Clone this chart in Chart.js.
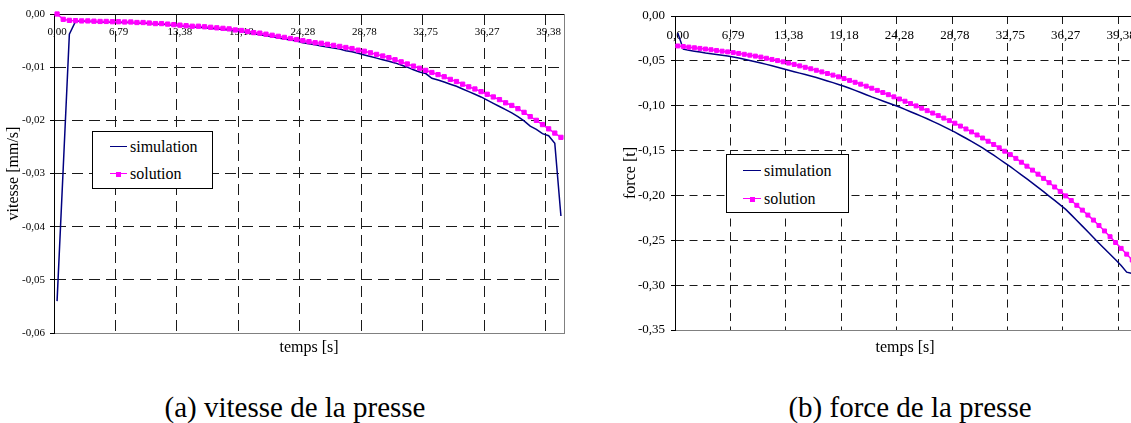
<!DOCTYPE html>
<html lang="fr">
<head>
<meta charset="utf-8">
<title>vitesse et force de la presse</title>
<script src="https://cdn.jsdelivr.net/npm/chart.js@4.4.1/dist/chart.umd.min.js"></script>
<style>
html,body{margin:0;padding:0;width:1131px;height:423px;overflow:hidden;background:#fff}
body{position:relative;font-family:'Liberation Serif','Times New Roman',serif;color:#000}
canvas{position:absolute;top:0}
#cA{left:0}
#cB{left:570px}
.legend{position:absolute;box-sizing:border-box;border:1px solid #000;background:#fff}
.legend .ln{position:absolute;height:0;border-top:1.5px solid}
.legend .mk{position:absolute;width:5px;height:5px;background:#ff00ff}
.legend .tx{position:absolute;font-size:16px;line-height:18px;white-space:nowrap}
.caption{position:absolute;top:393px;font-size:29px;line-height:29px;white-space:nowrap;transform:translateX(-50%)}
</style>
</head>
<body>
<canvas id="cA" width="570" height="370"></canvas>
<canvas id="cB" width="570" height="370"></canvas>
<div class="caption" style="left:295px">(a) vitesse de la presse</div>
<div class="caption" style="left:910px">(b) force de la presse</div>
<script>
// ---------- data ----------
const tickLabels = ['0,00','6,79','13,38','19,18','24,28','28,78','32,75','36,27','39,38'];
const seriesNames = ['simulation', 'solution'];

// (a) vitesse [mm/s]
const simA = [
 -0.0540, -0.0290, -0.0038, -0.0014, -0.0013, -0.0014, -0.0014, -0.0015, -0.0015, -0.0015,
 -0.0016, -0.0016, -0.0016, -0.0017, -0.0017, -0.0018, -0.0019, -0.0019, -0.0020, -0.0021,
 -0.0022, -0.0023, -0.0024, -0.0025, -0.0026, -0.0027, -0.0028, -0.0029, -0.0030, -0.0032,
 -0.0033, -0.0035, -0.0037, -0.0039, -0.0041, -0.0043, -0.0045, -0.0047, -0.0049, -0.0051,
 -0.0054, -0.0056, -0.0058, -0.0060, -0.0062, -0.0064, -0.0066, -0.0069, -0.0071, -0.0074,
 -0.0077, -0.0080, -0.0083, -0.0086, -0.0089, -0.0092, -0.0096, -0.0100, -0.0105, -0.0109,
 -0.0112, -0.0121, -0.0124, -0.0128, -0.0132, -0.0136, -0.0141, -0.0146, -0.0151, -0.0156,
 -0.0162, -0.0168, -0.0174, -0.0180, -0.0186, -0.0193, -0.0201, -0.0211, -0.0217, -0.0225,
 -0.0229, -0.0243, -0.0380];
const solA = [
 0, -0.0010, -0.0012, -0.00125, -0.0013, -0.0013, -0.00135, -0.0014, -0.0014, -0.00145,
 -0.00145, -0.0015, -0.0015, -0.0016, -0.0016, -0.0017, -0.0018, -0.0018, -0.0019, -0.0020,
 -0.0021, -0.0022, -0.0023, -0.0023, -0.0024, -0.0025, -0.0026, -0.0027, -0.0028, -0.0030,
 -0.0031, -0.0033, -0.0035, -0.0036, -0.0038, -0.0040, -0.0042, -0.0044, -0.0046, -0.0048,
 -0.0050, -0.0052, -0.0054, -0.0055, -0.0057, -0.0059, -0.0061, -0.0063, -0.0065, -0.0068,
 -0.0070, -0.0073, -0.0076, -0.0079, -0.0082, -0.0086, -0.0090, -0.0094, -0.0098, -0.0102,
 -0.0106, -0.0110, -0.0114, -0.0118, -0.0123, -0.0127, -0.0132, -0.0137, -0.0141, -0.0146,
 -0.0151, -0.0156, -0.0161, -0.0167, -0.0172, -0.0178, -0.0185, -0.0193, -0.0200, -0.0208,
 -0.0216, -0.0224, -0.0232];

// (b) force [t]
const simB = [
 -0.0190, -0.0370, -0.0381, -0.0392, -0.0402, -0.0412, -0.0420, -0.0429, -0.0438, -0.0447,
 -0.0456, -0.0468, -0.0481, -0.0495, -0.0509, -0.0523, -0.0539, -0.0555, -0.0571, -0.0588,
 -0.0605, -0.0621, -0.0637, -0.0653, -0.0669, -0.0686, -0.0705, -0.0724, -0.0743, -0.0763,
 -0.0783, -0.0806, -0.0829, -0.0853, -0.0877, -0.0902, -0.0924, -0.0947, -0.0969, -0.0992,
 -0.1015, -0.1041, -0.1067, -0.1093, -0.1119, -0.1145, -0.1174, -0.1203, -0.1233, -0.1264,
 -0.1295, -0.1329, -0.1363, -0.1398, -0.1434, -0.1470, -0.1511, -0.1552, -0.1594, -0.1637,
 -0.1680, -0.1725, -0.1770, -0.1816, -0.1863, -0.1910, -0.1958, -0.2007, -0.2056, -0.2106,
 -0.2156, -0.2217, -0.2279, -0.2342, -0.2406, -0.2470, -0.2532, -0.2594, -0.2656, -0.2718,
 -0.2780, -0.2855, -0.2870];
const solB = [
 -0.0334, -0.0340, -0.0347, -0.0354, -0.0361, -0.0368, -0.0376, -0.0384, -0.0392, -0.0400,
 -0.0408, -0.0417, -0.0427, -0.0437, -0.0447, -0.0458, -0.0471, -0.0484, -0.0497, -0.0511,
 -0.0525, -0.0540, -0.0556, -0.0572, -0.0588, -0.0605, -0.0623, -0.0641, -0.0659, -0.0678,
 -0.0697, -0.0718, -0.0739, -0.0760, -0.0782, -0.0805, -0.0829, -0.0853, -0.0877, -0.0901,
 -0.0925, -0.0950, -0.0976, -0.1002, -0.1028, -0.1055, -0.1082, -0.1110, -0.1138, -0.1166,
 -0.1195, -0.1227, -0.1259, -0.1292, -0.1326, -0.1360, -0.1396, -0.1432, -0.1469, -0.1507,
 -0.1545, -0.1587, -0.1630, -0.1674, -0.1718, -0.1763, -0.1810, -0.1858, -0.1906, -0.1955,
 -0.2005, -0.2057, -0.2110, -0.2164, -0.2219, -0.2275, -0.2335, -0.2396, -0.2460, -0.2525,
 -0.2590, -0.2655, -0.2720];

// category labels: a time label on every 10th sample, blank otherwise
const categories = solA.map((_, i) => (i % 10 === 0 && tickLabels[i / 10] !== undefined) ? tickLabels[i / 10] : '');

// ---------- styling ----------
const FF = "'Liberation Serif','Times New Roman',serif";
const NAVY = '#000080', MAGENTA = '#ff00ff', GRID = '#1a1a1a', FRAME = '#808080';
const fmt = v => (Math.abs(v) < 1e-9 ? '0.00' : Number(v).toFixed(2)).replace('.', ',');

function makeChart(id, sim, sol, o) {
  const xGrid = c => (c.type === 'tick' && c.index > 0 && c.index % 10 === 0) ? GRID : 'rgba(0,0,0,0)';
  return new Chart(document.getElementById(id), {
    type: 'line',
    data: {
      labels: categories,
      datasets: [
        { label: seriesNames[0], data: sim, xAxisID: 'x', yAxisID: 'y', order: 1,
          borderColor: NAVY, backgroundColor: NAVY, borderWidth: 1.5, pointRadius: 0, tension: 0, clip: false },
        { label: seriesNames[1], data: sol, xAxisID: 'x', yAxisID: 'y', order: 0,
          borderColor: MAGENTA, backgroundColor: MAGENTA, borderWidth: 1.5, pointStyle: 'rect',
          pointRadius: o.pr, pointBorderWidth: 1, pointBorderColor: MAGENTA, pointBackgroundColor: MAGENTA,
          tension: 0, clip: false }
      ]
    },
    options: {
      responsive: false, animation: false, devicePixelRatio: 1,
      layout: { padding: { left: 0, top: o.padTop, right: o.padRight, bottom: 0 } },
      plugins: { legend: { display: false }, tooltip: { enabled: false } },
      scales: {
        x: {
          type: 'category', offset: true, position: { y: 0 },
          afterFit: s => { s.height = 0; },
          ticks: { autoSkip: false, maxRotation: 0, minRotation: 0, padding: 7, color: '#000',
                   font: { family: FF, size: o.tick } },
          grid: { display: true, offset: true, drawOnChartArea: true, drawTicks: true, tickLength: 5,
                  lineWidth: 1, color: xGrid, tickColor: xGrid },
          border: { display: true, color: '#000', width: 1, dash: o.dash }
        },
        x2: {
          type: 'category', offset: true, position: 'bottom',
          afterFit: s => { s.height = o.x2h; },
          ticks: { display: false },
          grid: { display: false, drawTicks: false },
          border: { display: true, color: FRAME, width: 1 },
          title: { display: true, text: 'temps [s]', color: '#000', font: { family: FF, size: 16 },
                   padding: { top: 0, bottom: 12.8 } }
        },
        y: {
          type: 'linear', position: 'left', min: o.yMin, max: 0,
          afterFit: s => { s.width = o.yW; },
          ticks: { stepSize: o.yStep, padding: o.yPad, color: '#000', font: { family: FF, size: o.tick },
                   callback: v => fmt(v) },
          grid: { display: true, color: GRID, lineWidth: 1, drawTicks: true, tickLength: 4, tickColor: '#000' },
          border: { display: true, color: '#000', width: 1, dash: o.dash },
          title: { display: true, text: o.yTitle, color: '#000', font: { family: FF, size: 16 },
                   padding: { top: o.yTitlePad, bottom: 0 } }
        },
        y2: {
          type: 'linear', position: 'right', min: o.yMin, max: 0,
          afterFit: s => { s.width = 0; },
          ticks: { display: false },
          grid: { display: false, drawTicks: false },
          border: { display: true, color: FRAME, width: 1 }
        }
      }
    }
  });
}

makeChart('cA', simA, solA, { padTop: 14, padRight: 6, x2h: 37, yW: 54, yMin: -0.06, yStep: 0.01,
  yPad: 5, tick: 11, dash: [11, 6], yTitle: 'vitesse [mm/s]', yTitlePad: 4.4, pr: 3 });
makeChart('cB', simB, solB, { padTop: 16, padRight: 5, x2h: 40, yW: 105, yMin: -0.35, yStep: 0.05,
  yPad: 6, tick: 13, dash: [8, 5.5], yTitle: 'force [t]', yTitlePad: 51, pr: 2.8 });

// ---------- legends (HTML, inside plot areas) ----------
function addLegend(left, top, width, height, rowsY, lineLeft, lineW, textLeft) {
  const box = document.createElement('div');
  box.className = 'legend';
  Object.assign(box.style, { left: left + 'px', top: top + 'px', width: width + 'px', height: height + 'px' });
  const colors = [NAVY, MAGENTA];
  seriesNames.forEach((name, k) => {
    const cy = rowsY[k] - top - 1;
    const ln = document.createElement('div');
    ln.className = 'ln';
    Object.assign(ln.style, { left: lineLeft + 'px', width: lineW + 'px', top: (cy - 0.75) + 'px', borderTopColor: colors[k] });
    box.appendChild(ln);
    if (k === 1) {
      const mk = document.createElement('div');
      mk.className = 'mk';
      Object.assign(mk.style, { left: (lineLeft + lineW / 2 - 2.5) + 'px', top: (cy - 2.5) + 'px' });
      box.appendChild(mk);
    }
    const tx = document.createElement('div');
    tx.className = 'tx';
    tx.textContent = name;
    Object.assign(tx.style, { left: textLeft + 'px', top: (cy - 9) + 'px' });
    box.appendChild(tx);
  });
  document.body.appendChild(box);
}
addLegend(92, 131, 121, 58, [147, 174], 17, 17, 37);
addLegend(726, 154, 123, 59, [171, 199], 16, 18, 37);
</script>
</body>
</html>
